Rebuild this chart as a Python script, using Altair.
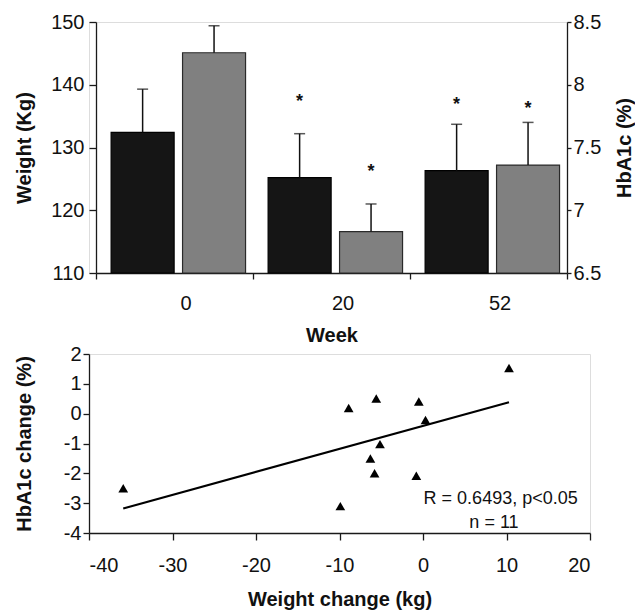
import altair as alt
import pandas as pd

FONT = "Liberation Sans"

# ---- top panel data ----
weeks = ["0", "20", "52"]
weight_mean = [132.4, 125.2, 126.3]
weight_err_top = [139.3, 132.2, 133.7]
hba1c_mean = [8.255, 6.83, 7.36]
hba1c_err_top = [8.47, 7.05, 7.70]
star_weeks = ["20", "52"]
weight_star = [137.9, 137.4]
hba1c_star = [7.34, 7.84]

# ---- bottom panel data ----
weight_change = [-35.9, -9.9, -8.9, -5.6, -0.5, 0.3, -5.15, -6.3, -5.8, -0.8, 10.3]
hba1c_change = [-2.5, -3.1, 0.19, 0.51, 0.41, -0.21, -1.02, -1.5, -2.0, -2.08, 1.53]
ann_text = ["R = 0.6493, p<0.05", "n = 11"]
ann_x = [9.3, 8.5]
ann_y = [-2.85, -3.65]

wdf = pd.DataFrame({"week": weeks, "series": "Weight", "value": weight_mean, "top": weight_err_top})
hdf = pd.DataFrame({"week": weeks, "series": "HbA1c", "value": hba1c_mean, "top": hba1c_err_top})
wsdf = pd.DataFrame({"week": star_weeks, "series": "Weight", "value": weight_star})
hsdf = pd.DataFrame({"week": star_weeks, "series": "HbA1c", "value": hba1c_star})
sdf = pd.DataFrame({"wc": weight_change, "hc": hba1c_change})
adf = pd.DataFrame({"wc": ann_x, "hc": ann_y, "t": ann_text})

AX = dict(domainColor="#1a1a1a", tickColor="#1a1a1a", labelColor="#111", titleColor="#111",
          labelFont=FONT, titleFont=FONT, labelFontSize=20, titleFontSize=20,
          titleFontWeight="bold", grid=False, domainWidth=1.3, tickWidth=1.3)
HYPHEN = "replace(datum.label, '\u2212', '-')"

x_enc = alt.X("week:N", sort=weeks,
              scale=alt.Scale(range=[7, 478], paddingInner=0, paddingOuter=0),
              axis=alt.Axis(title="Week", labelAngle=0, tickBand="extent", labelOffset=11,
                            tickSize=6, labelPadding=14, titlePadding=12, **AX))
xoff = alt.XOffset("series:N",
                   scale=alt.Scale(domain=["Weight", "HbA1c"], paddingInner=0.118,
                                   paddingOuter=0.158, align=0.67))

yw = alt.Y("value:Q", scale=alt.Scale(domain=[110, 150], nice=False, zero=False),
           axis=alt.Axis(title="Weight (Kg)", orient="left", values=[110, 120, 130, 140, 150],
                         tickSize=7, labelPadding=5, offset=-7, titleX=-72,
                         titleBaseline="middle", titleAngle=270, **AX))
yh = alt.Y("value:Q", scale=alt.Scale(domain=[6.5, 8.5], nice=False, zero=False),
           axis=alt.Axis(title="HbA1c (%)", orient="right", values=[6.5, 7, 7.5, 8, 8.5],
                         format="~g", tickSize=4, labelPadding=2, titleX=57,
                         titleBaseline="middle", titleAngle=270, **AX))

def panel(df, sdf_, yenc, base, fill, stroke):
    bars = alt.Chart(df).mark_bar(fill=fill, stroke=stroke, strokeWidth=1.2).encode(
        x=x_enc, xOffset=xoff, y=yenc, y2=alt.datum(base))
    err = alt.Chart(df).mark_rule(color="#111", strokeWidth=1.5).encode(
        x=x_enc, xOffset=xoff, y=yenc, y2="top:Q")
    cap = alt.Chart(df).mark_tick(color="#111", size=11, thickness=1.5).encode(
        x=x_enc, xOffset=xoff, y=alt.Y("top:Q"))
    star = alt.Chart(sdf_).mark_text(text="*", font=FONT, fontSize=18, fontWeight="bold",
                                     color="#111", dy=4).encode(
        x=x_enc, xOffset=xoff, y=yenc)
    return alt.layer(bars, err, cap, star)

top = alt.layer(panel(wdf, wsdf, yw, 110, "#151515", "#000"),
                panel(hdf, hsdf, yh, 6.5, "#808080", "#2a2a2a")
                ).resolve_scale(y="independent").properties(width=478, height=251)

xs = alt.X("wc:Q", scale=alt.Scale(domain=[-40, 20], nice=False),
           axis=alt.Axis(title="Weight change (kg)", values=[-40, -30, -20, -10, 0, 10, 20],
                         labelExpr=HYPHEN, tickSize=7, labelPadding=15, titlePadding=14, **AX))
ys = alt.Y("hc:Q", scale=alt.Scale(domain=[-4, 2], nice=False),
           axis=alt.Axis(title="HbA1c change (%)", values=[-4, -3, -2, -1, 0, 1, 2],
                         labelExpr=HYPHEN, tickSize=6, labelPadding=2, titleX=-65,
                         titleBaseline="middle", titleAngle=270, **AX))

pts = alt.Chart(sdf).mark_point(shape="triangle-up", filled=True, color="#000",
                                opacity=1, size=95).encode(x=xs, y=ys)
line = alt.Chart(sdf).transform_regression("wc", "hc").mark_line(
    color="#000", strokeWidth=2.2).encode(x=xs, y=ys)
ann = alt.Chart(adf).mark_text(font=FONT, fontSize=18, color="#111").encode(
    x=xs, y=ys, text="t:N")

bottom = alt.layer(line, pts, ann).properties(width=501, height=179)

chart = alt.vconcat(top, bottom, spacing=81, bounds="flush").properties(
    padding={"left": 5, "top": 3, "right": 0, "bottom": 0}
).configure_view(stroke=None).configure(font=FONT)

chart.save("out.html", embed_options={"renderer": "svg", "actions": False})
